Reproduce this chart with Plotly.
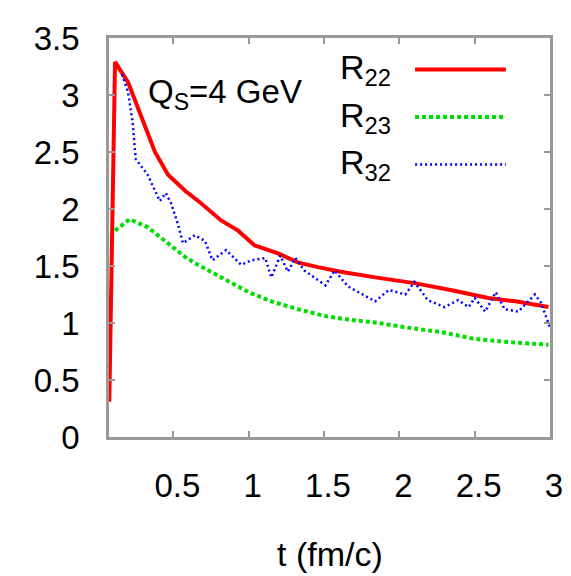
import plotly.graph_objects as go

# ---- data ----
t_r22 = [0.075, 0.113, 0.2, 0.285, 0.378, 0.465, 0.578, 0.684, 0.817, 0.93, 1.04,
         1.195, 1.33, 1.46, 1.61, 1.84, 2.10, 2.34, 2.59, 2.77, 2.99]
r22 = [0.31, 3.29, 3.11, 2.82, 2.50, 2.30, 2.16, 2.05, 1.90, 1.81, 1.68,
       1.61, 1.53, 1.49, 1.45, 1.40, 1.35, 1.29, 1.22, 1.19, 1.14]

t_r23 = [0.113, 0.21, 0.33, 0.445, 0.578, 0.664, 0.843, 1.0, 1.15, 1.33, 1.51,
         1.66, 1.84, 2.05, 2.28, 2.50, 2.75, 2.99]
r23 = [1.81, 1.91, 1.84, 1.72, 1.58, 1.51, 1.38, 1.27, 1.19, 1.12, 1.06,
       1.03, 1.005, 0.96, 0.92, 0.86, 0.83, 0.81]

t_r32 = [0.16, 0.2, 0.23, 0.25, 0.33, 0.41, 0.45, 0.485, 0.53, 0.564, 0.644, 0.71,
         0.76, 0.85, 0.95, 1.02, 1.11, 1.15, 1.21, 1.26, 1.31, 1.37, 1.51, 1.57,
         1.66, 1.84, 1.93, 2.04, 2.10, 2.19, 2.30, 2.39, 2.46, 2.50, 2.57, 2.64,
         2.70, 2.79, 2.90, 2.94, 3.0]
r32 = [3.18, 3.02, 2.76, 2.44, 2.30, 2.07, 2.14, 2.05, 1.87, 1.70, 1.77, 1.72,
       1.55, 1.64, 1.51, 1.55, 1.57, 1.40, 1.59, 1.45, 1.57, 1.46, 1.33, 1.46,
       1.32, 1.19, 1.29, 1.25, 1.36, 1.20, 1.14, 1.20, 1.14, 1.22, 1.10, 1.27,
       1.12, 1.10, 1.25, 1.18, 0.96]

x_ticks = [0.5, 1, 1.5, 2, 2.5, 3]
x_tick_labels = ["0.5", "1", "1.5", "2", "2.5", "3"]
y_ticks = [0, 0.5, 1, 1.5, 2, 2.5, 3, 3.5]
y_tick_labels = ["0", "0.5", "1", "1.5", "2", "2.5", "3", "3.5"]

series = [
    ("R<sub>22</sub>", t_r22, r22, dict(color="#ff0000", width=4, dash="solid")),
    ("R<sub>23</sub>", t_r23, r23, dict(color="#00dd00", width=4, dash="4px,3px")),
    ("R<sub>32</sub>", t_r32, r32, dict(color="#0000ff", width=2.5, dash="2px,3px")),
]

FONT = "Liberation Sans, Arial, sans-serif"

fig = go.Figure()
for name, x, y, line in series:
    fig.add_trace(go.Scatter(x=x, y=y, mode="lines", name=name, line=line,
                             showlegend=False))

# legend (gnuplot style: text left, sample right)
legend_y = [0.921, 0.802, 0.683]
for (name, x, y, line), ly in zip(series, legend_y):
    fig.add_annotation(x=0.519, y=ly, xref="paper", yref="paper", text=name,
                       showarrow=False, xanchor="left", yanchor="middle",
                       font=dict(size=34, color="black", family=FONT))
    fig.add_shape(type="line", xref="paper", yref="paper",
                  x0=0.694, x1=0.900, y0=ly, y1=ly, line=line)

fig.add_annotation(x=0.084, y=0.859, xref="paper", yref="paper",
                   text="Q<sub>S</sub>=4 GeV", showarrow=False,
                   xanchor="left", yanchor="middle",
                   font=dict(size=33, color="black", family=FONT))

# x-axis title
fig.add_annotation(x=0.5, y=-0.292, xref="paper", yref="paper",
                   text="t (fm/c)", showarrow=False,
                   xanchor="center", yanchor="middle",
                   font=dict(size=34, color="black", family=FONT))

axis_common = dict(showgrid=False, zeroline=False, showline=True,
                   linecolor="#999999", linewidth=2.5, mirror="allticks",
                   ticks="inside", ticklen=6, tickcolor="#999999", tickwidth=1.5,
                   tickfont=dict(size=33, color="black", family=FONT))

fig.update_xaxes(range=[0.073, 3.0], tickvals=x_ticks, ticktext=x_tick_labels,
                 ticklabelstandoff=18, ticklabelshift=4, **axis_common)
fig.update_yaxes(range=[0, 3.5], tickvals=y_ticks, ticktext=y_tick_labels,
                 ticklabelstandoff=20, **axis_common)

fig.update_layout(width=571, height=576, margin=dict(l=101, r=29, t=25, b=147),
                  plot_bgcolor="white", paper_bgcolor="white",
                  font=dict(family=FONT, color="black"))

fig.write_html("out.html")
